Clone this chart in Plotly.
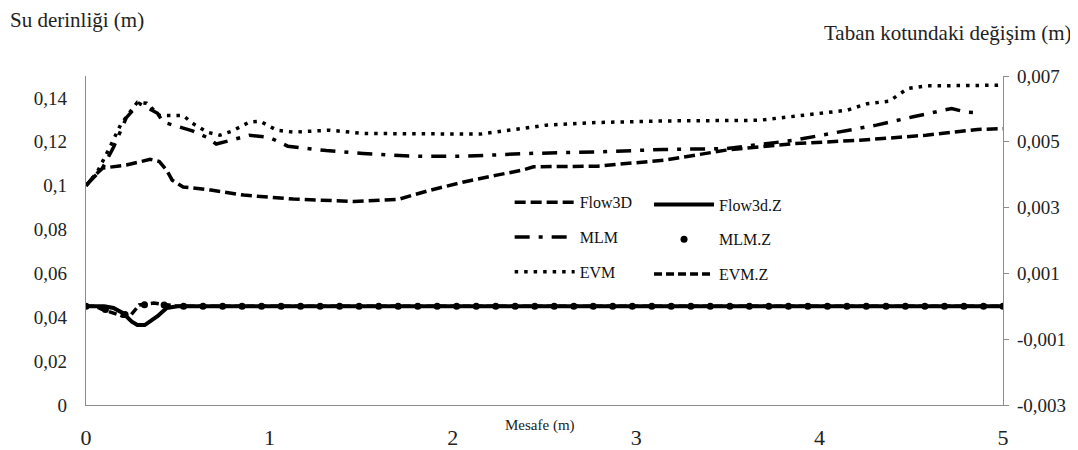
import plotly.graph_objects as go

# ---------------- data ----------------
FLOW3D_X = [0, 0.04, 0.09, 0.22, 0.35, 0.40, 0.44, 0.47, 0.53, 0.68, 0.86, 1.13, 1.46, 1.70,
            1.88, 2.06, 2.24, 2.38, 2.44, 2.79, 3.15, 3.49, 3.86, 4.22, 4.58, 4.86, 5.0]
FLOW3D_Y = [0.100, 0.104, 0.108, 0.1094, 0.112, 0.111, 0.107, 0.1025, 0.0994, 0.098, 0.0957,
            0.0939, 0.0928, 0.0937, 0.098, 0.1017, 0.1048, 0.1071, 0.1086, 0.1089, 0.1116,
            0.1162, 0.1192, 0.1207, 0.123, 0.1256, 0.126]

MLM_X = [0, 0.09, 0.15, 0.22, 0.29, 0.39, 0.42, 0.58, 0.66, 0.71, 0.79, 0.89, 1.0, 1.10, 1.31,
         1.51, 1.78, 2.06, 2.42, 2.79, 3.15, 3.49, 3.86, 4.10, 4.31, 4.51, 4.64, 4.72, 4.80, 4.86]
MLM_Y = [0.100, 0.108, 0.1175, 0.131, 0.1375, 0.133, 0.129, 0.125, 0.122, 0.119, 0.1207, 0.123,
         0.122, 0.118, 0.116, 0.1147, 0.1134, 0.1134, 0.1147, 0.1154, 0.1165, 0.1169, 0.1207,
         0.1245, 0.1276, 0.1314, 0.1336, 0.1352, 0.1335, 0.1333]

EVM_X = [0, 0.06, 0.13, 0.19, 0.28, 0.33, 0.40, 0.47, 0.53, 0.58, 0.66, 0.73, 0.80, 0.89, 0.95,
         1.04, 1.13, 1.33, 1.51, 2.15, 2.33, 2.51, 2.79, 3.15, 3.67, 3.95, 4.15, 4.26, 4.38,
         4.48, 4.58, 5.0]
EVM_Y = [0.100, 0.106, 0.1175, 0.128, 0.138, 0.1376, 0.132, 0.132, 0.132, 0.1285, 0.1244, 0.123,
         0.125, 0.129, 0.1294, 0.1253, 0.1244, 0.1253, 0.1238, 0.1235, 0.1256, 0.1276, 0.1288,
         0.1295, 0.1298, 0.1324, 0.1344, 0.1374, 0.1385, 0.1443, 0.1455, 0.1458]

FLOW3DZ_X = [0, 0.10, 0.15, 0.20, 0.25, 0.28, 0.32, 0.39, 0.44, 0.50, 1, 2, 3, 4, 5]
FLOW3DZ_Y = [0, 0, -0.00005, -0.0002, -0.00047, -0.00057, -0.00057, -0.0003, -0.00005,
             0, 0, 0, 0, 0, 0]

MLMZ_X = [0, 0.106, 0.213, 0.319, 0.426, 0.532, 0.638, 0.745, 0.851, 0.957, 1.064, 1.170,
          1.277, 1.383, 1.489, 1.596, 1.702, 1.809, 1.915, 2.021, 2.128, 2.234, 2.340, 2.447,
          2.553, 2.660, 2.766, 2.872, 2.979, 3.085, 3.191, 3.298, 3.404, 3.511, 3.617, 3.723,
          3.830, 3.936, 4.043, 4.149, 4.255, 4.362, 4.468, 4.574, 4.681, 4.787, 4.894, 5.0]
MLMZ_Y = [0, -0.0001, -0.00025, 0.00005, 0.00004, 0, 0, 0, 0, 0, 0, 0,
          0, 0, 0, 0, 0, 0, 0, 0, 0, 0, 0, 0,
          0, 0, 0, 0, 0, 0, 0, 0, 0, 0, 0, 0,
          0, 0, 0, 0, 0, 0, 0, 0, 0, 0, 0, 0]

EVMZ_X = [0, 0.05, 0.09, 0.20, 0.24, 0.29, 0.37, 0.44, 0.50, 1, 2, 3, 4, 5]
EVMZ_Y = [0, 0, -0.0001, -0.0003, -0.0003, 0.00004, 0.0001, 0.00004, 0, 0, 0, 0, 0, 0]

X_TICKS = [0, 1, 2, 3, 4, 5]
X_TICKTEXT = ["0", "1", "2", "3", "4", "5"]
Y1_TICKS = [0, 0.02, 0.04, 0.06, 0.08, 0.10, 0.12, 0.14]
Y1_TICKTEXT = ["0", "0,02", "0,04", "0,06", "0,08", "0,1", "0,12", "0,14"]
Y2_TICKS = [-0.003, -0.001, 0.001, 0.003, 0.005, 0.007]
Y2_TICKTEXT = ["-0,003", "-0,001", "0,001", "0,003", "0,005", "0,007"]

# ---------------- figure ----------------
FONT = "Liberation Serif, Times New Roman, serif"
BLACK = "#000000"
AXIS = "#8c8c8c"
TXT = "#222222"

fig = go.Figure()

fig.add_trace(go.Scatter(x=FLOW3D_X, y=FLOW3D_Y, name="Flow3D", mode="lines",
                         line=dict(color=BLACK, width=3.5, dash="11px,5px"),
                         legend="legend", legendgroup="a"))
fig.add_trace(go.Scatter(x=MLM_X, y=MLM_Y, name="MLM", mode="lines",
                         line=dict(color=BLACK, width=3.5, dash="15px,9px,4px,9px"),
                         legend="legend", legendgroup="b"))
fig.add_trace(go.Scatter(x=EVM_X, y=EVM_Y, name="EVM", mode="lines",
                         line=dict(color=BLACK, width=3.5, dash="3.5px,6px"),
                         legend="legend", legendgroup="c"))

fig.add_trace(go.Scatter(x=FLOW3DZ_X, y=FLOW3DZ_Y, name="Flow3d.Z", mode="lines", yaxis="y2",
                         line=dict(color=BLACK, width=4),
                         legend="legend2", legendgroup="d"))
fig.add_trace(go.Scatter(x=MLMZ_X, y=MLMZ_Y, name="MLM.Z", mode="markers", yaxis="y2",
                         marker=dict(color=BLACK, size=7),
                         legend="legend2", legendgroup="e"))
fig.add_trace(go.Scatter(x=EVMZ_X, y=EVMZ_Y, name="EVM.Z", mode="lines", yaxis="y2",
                         line=dict(color=BLACK, width=3.5, dash="8px,4px"),
                         legend="legend2", legendgroup="f"))

# the page body has an 8px default margin, so the figure is sized to fit the window
fig.update_layout(
    width=1070, height=442,
    margin=dict(l=78, r=75, t=68, b=45, autoexpand=False),
    paper_bgcolor="white", plot_bgcolor="white",
    font=dict(family=FONT, color=TXT, size=15),
    xaxis=dict(range=[0, 5], showgrid=False, zeroline=False, showline=True,
               linecolor=AXIS, linewidth=1.2, ticks="", tickvals=X_TICKS,
               ticktext=X_TICKTEXT, tickfont=dict(size=22, family=FONT, color=TXT),
               ticklabelstandoff=12, automargin=False),
    yaxis=dict(range=[0, 0.15], showgrid=False, zeroline=False, showline=True,
               linecolor=AXIS, linewidth=1.2, ticks="", tickvals=Y1_TICKS,
               ticktext=Y1_TICKTEXT, tickfont=dict(size=19, family=FONT, color=TXT),
               ticklabelstandoff=14, automargin=False),
    yaxis2=dict(range=[-0.003, 0.007], overlaying="y", side="right", showgrid=False,
                zeroline=False, showline=True, linecolor=AXIS, linewidth=1.2,
                ticks="outside", ticklen=5, tickcolor=AXIS, tickwidth=1.2,
                tickvals=Y2_TICKS, ticktext=Y2_TICKTEXT,
                tickfont=dict(size=19, family=FONT, color=TXT),
                ticklabelstandoff=4, automargin=False),
    legend=dict(x=0.462, y=0.668, xanchor="left", yanchor="top", bgcolor="rgba(0,0,0,0)",
                font=dict(size=16, family=FONT, color="#111111"), tracegroupgap=11,
                itemwidth=60),
    legend2=dict(x=0.614, y=0.661, xanchor="left", yanchor="top", bgcolor="rgba(0,0,0,0)",
                 font=dict(size=16, family=FONT, color="#111111"), tracegroupgap=11,
                 itemwidth=60),
    annotations=[
        dict(text="Su derinliği (m)", xref="paper", yref="paper", x=-0.085, y=1.17,
             xanchor="left", yanchor="middle", showarrow=False,
             font=dict(size=21, family=FONT, color=TXT)),
        dict(text="Taban kotundaki değişim (m)", xref="paper", yref="paper", x=1.077, y=1.131,
             xanchor="right", yanchor="middle", showarrow=False,
             font=dict(size=21, family=FONT, color=TXT)),
        dict(text="Mesafe (m)", xref="paper", yref="paper", x=0.495, y=-0.061,
             xanchor="center", yanchor="middle", showarrow=False,
             font=dict(size=15, family=FONT, color=TXT)),
    ],
)

fig.write_html("out.html")
